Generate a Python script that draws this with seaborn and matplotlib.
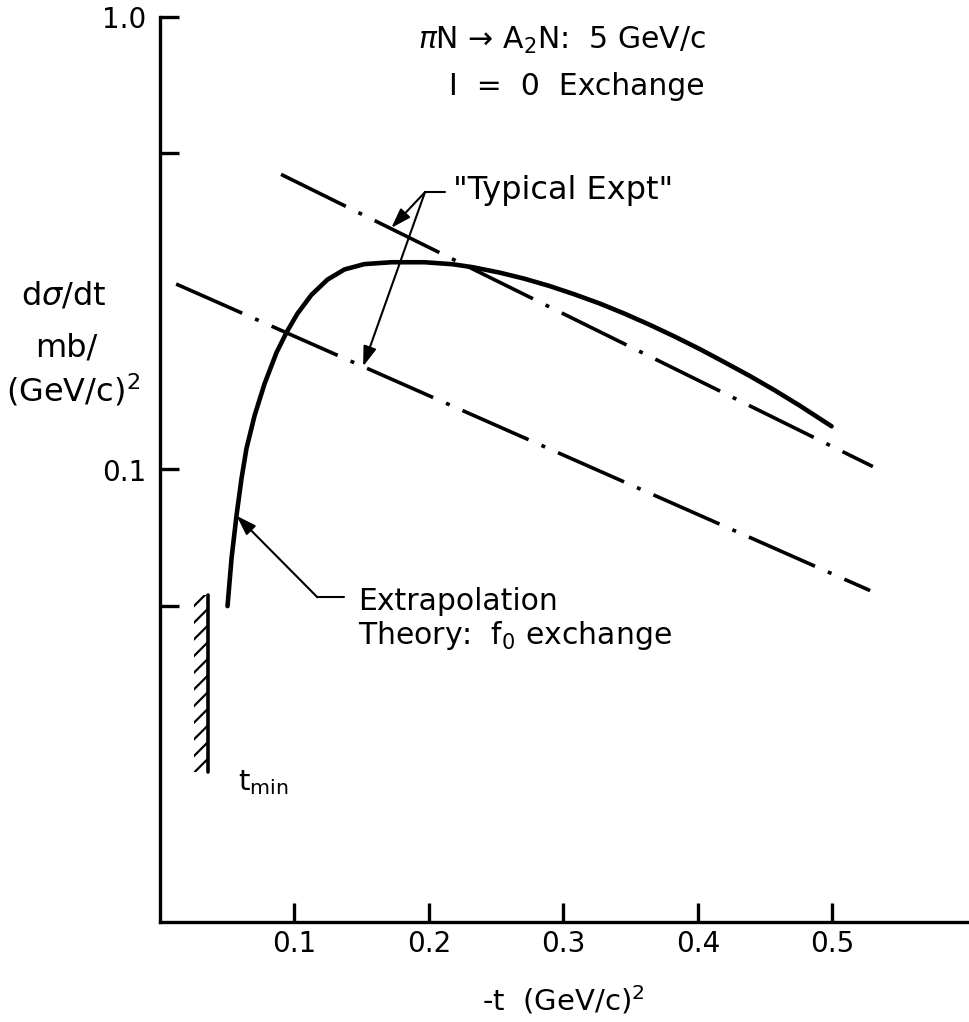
import numpy as np
import pandas as pd
import seaborn as sns
import matplotlib.pyplot as plt
from matplotlib.ticker import NullLocator

# extrapolation theory (f0 exchange): -t in (GeV/c)^2, dsigma/dt in mb/(GeV/c)^2
theoryT = [0.0502, 0.0532, 0.0569, 0.0606, 0.0643, 0.0703, 0.0777, 0.0866, 0.0941, 0.1022,
           0.1126, 0.1245, 0.1372, 0.1520, 0.1721, 0.1967, 0.2175, 0.2323, 0.2524, 0.2710,
           0.2896, 0.3082, 0.3268, 0.3454, 0.3640, 0.3825, 0.4011, 0.4197, 0.4383, 0.4569,
           0.4755, 0.4993]
theorySigma = [0.0499, 0.0637, 0.0792, 0.0955, 0.1113, 0.1315, 0.1546, 0.1812, 0.2010, 0.2211,
               0.2432, 0.2628, 0.2768, 0.2844, 0.2871, 0.2871, 0.2842, 0.2800, 0.2724, 0.2640,
               0.2544, 0.2438, 0.2328, 0.2210, 0.2089, 0.1968, 0.1847, 0.1726, 0.1611, 0.1497,
               0.1385, 0.1246]

# "typical expt" exponential fits (straight on the log scale)
exptHighT = [0.090, 0.530]
exptHighSigma = [0.449, 0.1015]
exptLowT = [0.012, 0.528]
exptLowSigma = [0.257, 0.054]

# t_min wall
tMin = 0.036
tMinWall = [0.0214, 0.0528]

xTicks = [0.1, 0.2, 0.3, 0.4, 0.5]
xTickLabels = ["0.1", "0.2", "0.3", "0.4", "0.5"]
yTicks = [0.05, 0.1, 0.5, 1.0]
yTickLabels = ["", "0.1", "", "1.0"]


sns.set_style("ticks", {"text.color": "black", "axes.labelcolor": "black",
                        "axes.edgecolor": "black", "xtick.color": "black",
                        "ytick.color": "black"})
plt.rcParams["font.family"] = ["DejaVu Sans"]
plt.rcParams["mathtext.fontset"] = "dejavusans"
plt.rcParams["hatch.linewidth"] = 1.6
plt.rcParams["axes.linewidth"] = 2.4

fig = plt.figure(figsize=(9.7, 10.22), dpi=100)
ax = fig.add_axes([160 / 970, 1 - 922 / 1022, 807 / 970, 905 / 1022])

theoryDf = pd.DataFrame({"t": theoryT, "sigma": theorySigma})
highDf = pd.DataFrame({"t": exptHighT, "sigma": exptHighSigma})
lowDf = pd.DataFrame({"t": exptLowT, "sigma": exptLowSigma})

dashDot = (0, (20, 3.9, 1.1, 3.9))
sns.lineplot(data=theoryDf, x="t", y="sigma", ax=ax, color="black", lw=3.3,
             estimator=None, sort=False, solid_joinstyle="round", solid_capstyle="round")
for df in [highDf, lowDf]:
    sns.lineplot(data=df, x="t", y="sigma", ax=ax, color="black", lw=2.6,
                 linestyle=dashDot, dash_capstyle="butt", estimator=None, sort=False)

# hatched t_min wall
ax.fill_betweenx(tMinWall, tMin - 0.011, tMin, facecolor="none", edgecolor="black",
                 hatch="//", linewidth=0)
ax.plot([tMin, tMin], tMinWall, color="black", lw=2.6)

ax.set_yscale("log")
ax.set_xlim(0, 0.6)
ax.set_ylim(0.01, 1.0)
ax.set_xticks(xTicks, xTickLabels)
ax.set_yticks(yTicks, yTickLabels)
ax.yaxis.set_minor_locator(NullLocator())
ax.tick_params(direction="in", length=14, width=2.4, labelsize=20, color="black")
ax.tick_params(axis="x", pad=6)
ax.tick_params(axis="y", pad=10)
sns.despine(ax=ax)

ax.set_ylabel("")
ax.set_xlabel("-t  (GeV/c)$^2$", fontsize=21, va="center")
ax.xaxis.set_label_coords(0.5, -0.086)

# annotations
arrowKw = dict(arrowstyle="-|>,head_length=0.6,head_width=0.2", color="black", lw=1.5,
               shrinkA=0, shrinkB=0, mutation_scale=20)
ax.annotate("", xy=(0.172, 0.342), xytext=(0.197, 0.41), arrowprops=arrowKw)
ax.annotate("", xy=(0.151, 0.169), xytext=(0.197, 0.41), arrowprops=arrowKw)
ax.plot([0.197, 0.212], [0.41, 0.41], color="black", lw=1.5)
ax.text(0.218, 0.414, '"Typical Expt"', ha="left", va="center", fontsize=23)

ax.annotate("", xy=(0.057, 0.079), xytext=(0.117, 0.0522), arrowprops=arrowKw)
ax.plot([0.117, 0.137], [0.0522, 0.0522], color="black", lw=1.5)
ax.text(0.147, 0.0512, "Extrapolation", ha="left", va="center", fontsize=21.5)
ax.text(0.147, 0.0430, "Theory:  f$_0$ exchange", ha="left", va="center", fontsize=21.5)

ax.text(0.058, 0.0203, "t$_{\\rm min}$", ha="left", va="center", fontsize=21)

# title block and y label, placed in figure pixels
fig.text(562 / 970, 1 - 40 / 1022, "$\\pi$N → A$_2$N:  5 GeV/c", ha="center", va="center", fontsize=21.5)
fig.text(577 / 970, 1 - 86 / 1022, "I  =  0  Exchange", ha="center", va="center", fontsize=21.5)
fig.text(64 / 970, 1 - 296 / 1022, "d$\\sigma$/dt", ha="center", va="center", fontsize=23)
fig.text(66 / 970, 1 - 348 / 1022, "mb/", ha="center", va="center", fontsize=23)
fig.text(73 / 970, 1 - 390 / 1022, "(GeV/c)$^2$", ha="center", va="center", fontsize=23)

fig.savefig("out.png", dpi=100)
